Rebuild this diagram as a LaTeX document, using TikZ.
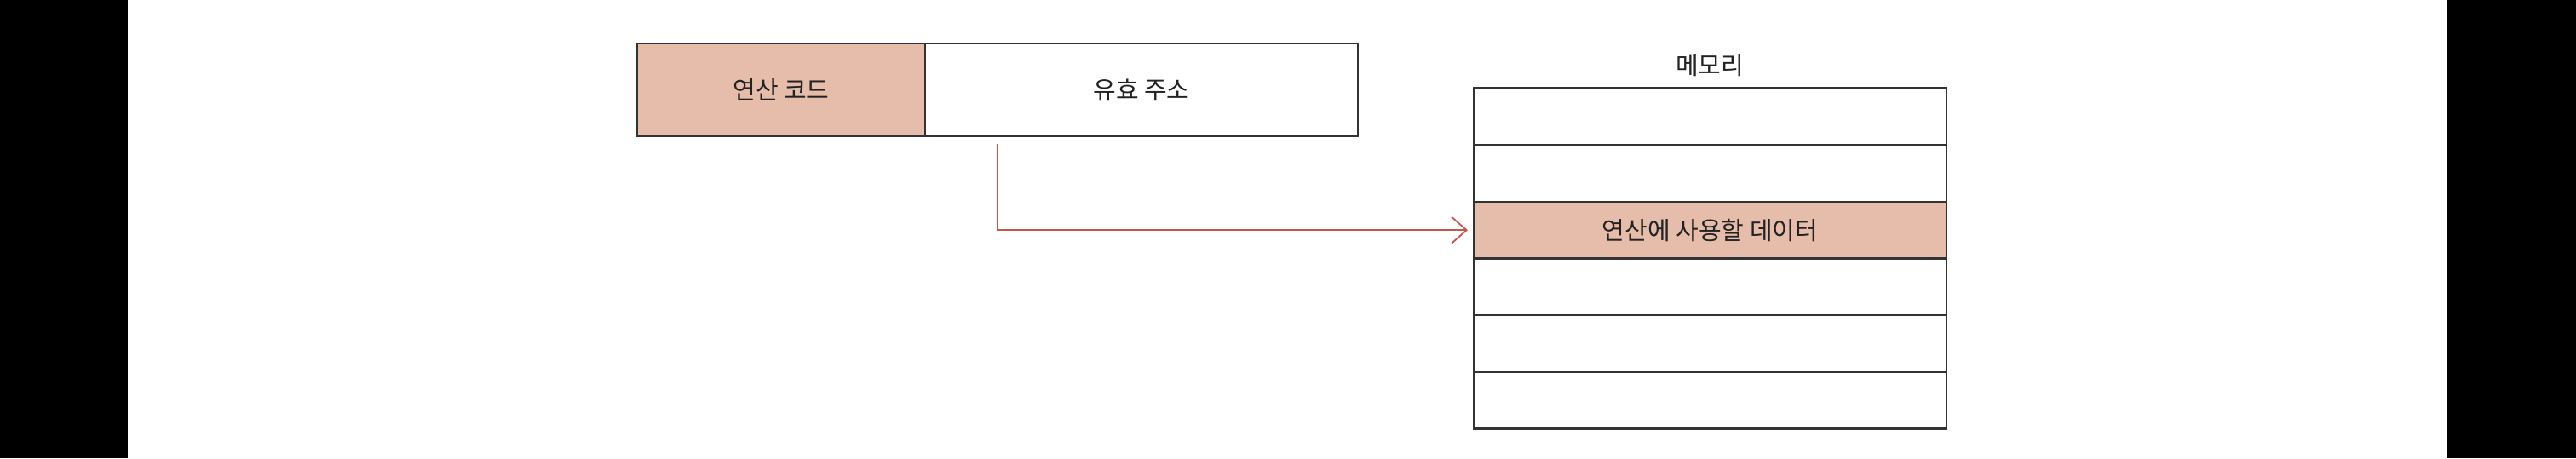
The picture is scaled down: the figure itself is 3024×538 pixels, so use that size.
\documentclass[tikz,border=0pt]{standalone}
\usepackage{fontspec}
\newfontfamily\kr{Noto Sans CJK KR}
\usetikzlibrary{arrows.meta}
\definecolor{salmon}{HTML}{E5BDAA}
\definecolor{edge}{HTML}{333333}
\definecolor{arrowred}{HTML}{C4564E}
\definecolor{txt}{HTML}{222222}
\tikzset{
  cell/.style={draw=edge, line width=1.25pt, inner sep=0pt, outer sep=0pt, text=txt,
    font=\kr\fontsize{14.5}{17}\selectfont},
  instr/.style={cell, minimum height=54.5pt},
  memcell/.style={cell, minimum width=277.5pt, minimum height=33.3pt},
  hot/.style={fill=salmon},
  link/.style={draw=arrowred, line width=0.9pt, -{Straight Barb[length=8.8pt,width=15.5pt,line width=0.9pt]}},
  lbl/.style={text=txt, font=\kr\fontsize{14.5}{17}\selectfont, inner sep=0pt}
}
\begin{document}
\begin{tikzpicture}[x=0.5pt,y=-0.5pt]
\useasboundingbox (0,0) rectangle (3024,538);
\fill[white] (0,0) rectangle (3024,538);
\fill[black] (0,0) rectangle (150,538);
\fill[black] (2873,0) rectangle (3024,538);
% instruction
\node[instr, hot, minimum width=169pt] (op) at (917,105.5) {연산 코드};
\node[instr, minimum width=254pt] (addr) at (1340,105.5) {유효 주소};
% memory
\node[memcell] (m1) at (2007.5,136.9) {};
\node[memcell] (m2) at (2007.5,203.6) {};
\node[memcell, hot] (m3) at (2007.5,270.2) {연산에 사용할 데이터};
\node[memcell] (m4) at (2007.5,336.9) {};
\node[memcell] (m5) at (2007.5,403.5) {};
\node[memcell] (m6) at (2007.5,470.2) {};
\node[lbl] (memlbl) at (2007,77) {메모리};
% arrow
\coordinate (s) at (1171,169);
\draw[link] (s) |- ([xshift=-3.5pt]m3.west);
\end{tikzpicture}
\end{document}
